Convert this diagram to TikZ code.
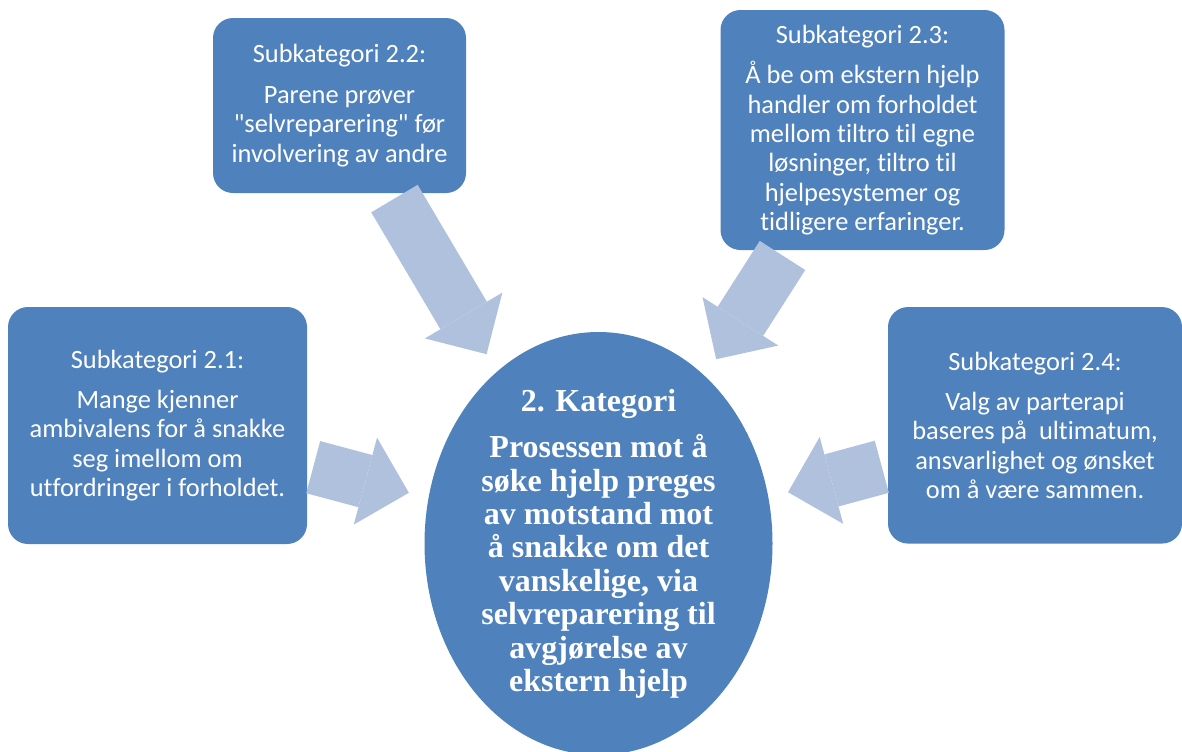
\documentclass[tikz,border=0pt]{standalone}
\usepackage{fontspec}
\setmainfont{Carlito}[Ligatures={NoCommon,TeXOff}]
\newfontfamily\serifbold{Liberation Serif}
\usetikzlibrary{arrows.meta, shapes.geometric}
\definecolor{boxblue}{RGB}{79,129,189}
\definecolor{arrowblue}{RGB}{176,193,222}
\tikzset{
  subbox/.style={rectangle, rounded corners=10pt, fill=boxblue, text=white,
                 align=center, inner sep=0pt,
                 font=\fontsize{13.2}{14.7}\selectfont},
  katbox/.style={ellipse, fill=boxblue, text=white, align=center,
                 inner xsep=0pt, inner ysep=-12pt,
                 minimum width=174pt, minimum height=211.5pt,
                 font=\serifbold\bfseries\fontsize{16}{16.7}\selectfont},
  bigarr/.style={-{Triangle[length=22.5pt, width=45pt, line width=0pt]},
                 line width=27pt, draw=arrowblue,
                 shorten <=3pt, shorten >=10pt},
}
\begin{document}
\begin{tikzpicture}[x=0.5pt, y=-0.5pt]
  \useasboundingbox (0,0) rectangle (1182,751);

  % centre
  \node[katbox] (kat) at (598.5,543.5)
    {2. Kategori\\[6.6pt]Prosessen mot å\\søke hjelp preges\\av motstand mot\\å snakke om det\\vanskelige, via\\selvreparering til\\avgjørelse av\\ekstern hjelp};

  % subcategories
  \node[subbox, minimum width=149.5pt, minimum height=118.5pt] (sub1) at (157.5,425.5)
    {Subkategori 2.1:\\[5.5pt]Mange kjenner\\ambivalens for å snakke\\seg imellom om\\utfordringer i forholdet.};
  \node[subbox, minimum width=126.5pt, minimum height=87.5pt] (sub2) at (339.5,105.5)
    {Subkategori 2.2:\\[5.5pt]Parene prøver\\"selvreparering" før\\involvering av andre};
  \node[subbox, minimum width=142pt, minimum height=120pt] (sub3) at (862.5,130)
    {Subkategori 2.3:\\[5.5pt]Å be om ekstern hjelp\\handler om forholdet\\mellom tiltro til egne\\løsninger, tiltro til\\hjelpesystemer og\\tidligere erfaringer.};
  \node[subbox, minimum width=147pt, minimum height=118.25pt] (sub4) at (1035,425.3)
    {Subkategori 2.4:\\[5.5pt]Valg av parterapi\\baseres på~ ultimatum,\\ansvarlighet og ønsket\\om å være sammen.};

  \draw[bigarr] (sub1) -- (kat);
  \draw[bigarr] (sub2) -- (kat);
  \draw[bigarr] (sub3) -- (kat);
  \draw[bigarr] (sub4) -- (kat);
\end{tikzpicture}
\end{document}
